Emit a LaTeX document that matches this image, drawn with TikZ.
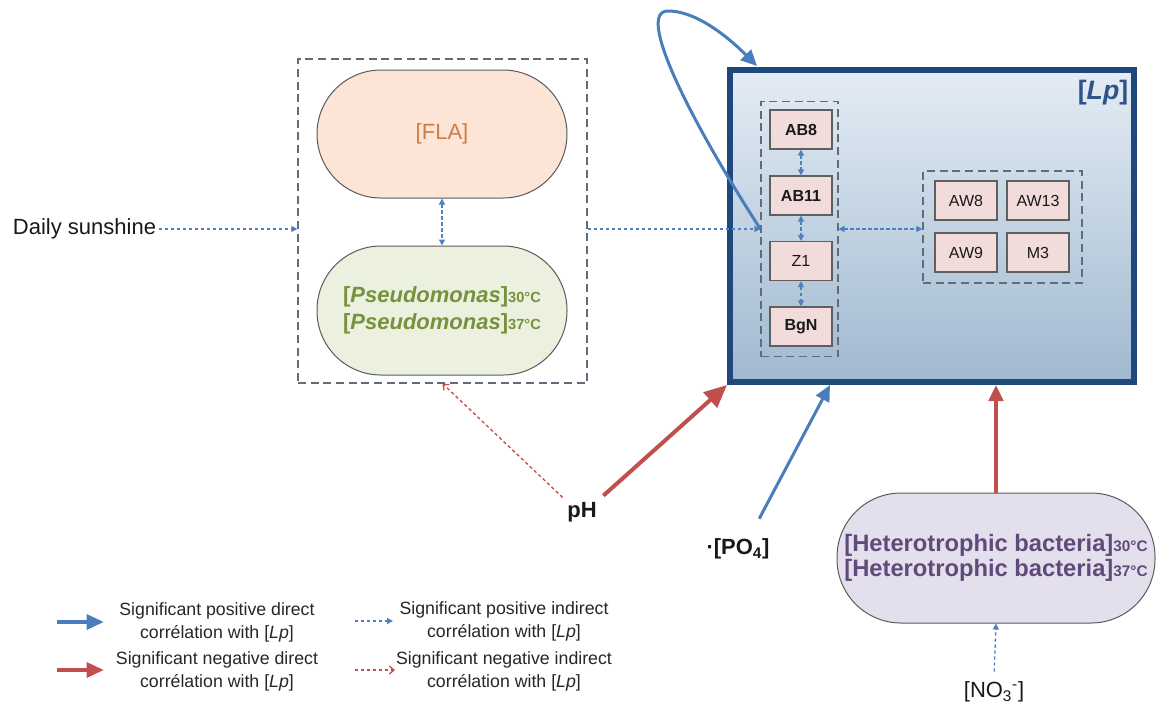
\documentclass[tikz,border=0pt]{standalone}
\usepackage{fontspec}
\setmainfont{Liberation Sans}
\usetikzlibrary{arrows.meta,calc}
\definecolor{dotblue}{RGB}{79,129,189}
\definecolor{blueone}{RGB}{74,126,187}
\definecolor{redone}{RGB}{192,80,77}
\definecolor{grpc}{RGB}{95,108,122}
\definecolor{bxc}{RGB}{95,95,95}
\definecolor{bxfill}{RGB}{242,220,219}
\definecolor{stadc}{RGB}{90,90,90}
\definecolor{flafill}{RGB}{252,228,214}
\definecolor{flatext}{RGB}{205,125,70}
\definecolor{psefill}{RGB}{235,241,222}
\definecolor{psetext}{RGB}{118,146,60}
\definecolor{hetfill}{RGB}{228,223,236}
\definecolor{hettext}{RGB}{96,74,123}
\definecolor{lptop}{RGB}{228,236,244}
\definecolor{lpbot}{RGB}{160,185,208}
\definecolor{lpborder}{RGB}{31,73,125}
\definecolor{lptext}{RGB}{47,85,135}
\definecolor{legtext}{RGB}{38,38,38}
\begin{document}
\begin{tikzpicture}[x=0.75pt,y=-0.75pt,
  grp/.style={draw=grpc, line width=0.9pt, dash pattern=on 6pt off 3.5pt, inner sep=0pt},
  bx/.style={draw=bxc, fill=bxfill, line width=0.8pt, minimum width=46.5pt, minimum height=29.25pt, inner sep=0pt, font=\fontsize{12}{12}\selectfont, text=black!90},
  bxb/.style={bx, font=\bfseries\fontsize{12}{12}\selectfont},
  stad/.style={draw=stadc, line width=0.75pt, rounded corners=48pt, inner sep=0pt, align=center},
  dotb/.style={draw=dotblue, line width=1pt, dash pattern=on 2.5pt off 2pt, -{Triangle[length=4.5pt,width=4.5pt]}},
  dotbb/.style={dotb, {Triangle[length=4.5pt,width=4.5pt]}-{Triangle[length=4.5pt,width=4.5pt]}},
  dotr/.style={draw=redone, line width=1pt, dash pattern=on 2.5pt off 2pt, -{Straight Barb[length=3.5pt,width=6pt]}},
  solb/.style={draw=blueone, line width=2.25pt, -{Triangle[length=12pt,width=11pt]}},
  solr/.style={draw=redone, line width=2.6pt, -{Triangle[length=12pt,width=11pt]}},
  legfont/.style={font=\fontsize{13.3}{17.25}\selectfont, text=legtext, align=center},
  bigtxt/.style={font=\fontsize{16.5}{16.5}\selectfont, text=black!90}
]
\useasboundingbox (0,0) rectangle (1157,711);

% main Lp box
\node[draw=lpborder, line width=4.5pt, top color=lptop, bottom color=lpbot,
      minimum width=303pt, minimum height=234pt, inner sep=0pt] (lp) at (932,226) {};
\node[font=\bfseries\fontsize{20}{20}\selectfont, text=lptext] (lplab) at (1103,93) {[\textit{Lp}]};

% left group inside Lp
\node[grp, minimum width=57.75pt, minimum height=191.25pt] (lgrp) at (799.5,229) {};
\node[bxb] (ab8)  at (801,129.5) {AB8};
\node[bxb] (ab11) at (801,195.5) {AB11};
\node[bx]  (z1)   at (801,261)   {Z1};
\node[bxb] (bgn)  at (801,326.5) {BgN};
\draw[dotbb] (ab8) -- (ab11);
\draw[dotbb] (ab11) -- (z1);
\draw[dotbb] (z1) -- (bgn);

% right group inside Lp
\node[grp, minimum width=119.25pt, minimum height=84pt] (rgrp) at (1002.5,227) {};
\node[bx] (aw8)  at (966,200.5)  {AW8};
\node[bx] (aw13) at (1038,200.5) {AW13};
\node[bx] (aw9)  at (966,252.5)  {AW9};
\node[bx] (m3)   at (1038,252.5) {M3};
\draw[dotbb] (lgrp.east) -- (lgrp.east -| rgrp.west);

% left big group
\node[grp, minimum width=216.75pt, minimum height=243pt] (big) at (442.5,221) {};
\node[stad, fill=flafill, minimum width=187.5pt, minimum height=96pt,
      font=\fontsize{16.5}{16.5}\selectfont, text=flatext] (fla) at (442,134) {[FLA]};
\node[stad, fill=psefill, minimum width=187.5pt, minimum height=96.75pt,
      font=\bfseries\fontsize{16.5}{20}\selectfont, text=psetext] (pse) at (442,310.5)
      {{[}\textit{Pseudomonas}]{\fontsize{11}{11}\selectfont 30°C}\\{[}\textit{Pseudomonas}]{\fontsize{11}{11}\selectfont 37°C}};
\draw[dotbb] (fla.south) -- (pse.north);

% daily sunshine
\node[bigtxt, inner sep=2pt] (sun) at (84.5,229) {Daily sunshine};
\draw[dotb] (sun.east) -- (sun.east -| big.west);
\draw[dotb] (lgrp.west -| big.east) -- (lgrp.west);

% self loop
\coordinate (looptip) at (757,66);
\draw[solb] (lgrp.west) .. controls (690,120) and (635,11) .. (668,11)
   .. controls (700,11) and (735,44) .. (looptip);

% pH
\node[font=\bfseries\fontsize{16.5}{16.5}\selectfont, text=black!90] (ph) at (582,512) {pH};
\draw[solr, line width=3pt, -{Triangle[length=17pt,width=15pt]}, shorten <=2pt] (ph.north east) -- (lp.south west);
\draw[dotr] (ph.north west) -- (big.south);

% PO4
\node[font=\bfseries\fontsize{16.5}{16.5}\selectfont, text=black!90] (po) at (738,549) {·[PO\textsubscript{4}]};
\draw[solb, shorten <=13pt] ([xshift=9.8pt]po.north) -- ([xshift=77.25pt]lp.south west);

% heterotrophic bacteria
\node[stad, fill=hetfill, minimum width=238.5pt, minimum height=97.5pt,
      font=\bfseries\fontsize{17.8}{19}\selectfont, text=hettext] (het) at (996,558)
      {{[}Heterotrophic bacteria]{\fontsize{11.5}{11.5}\selectfont 30°C}\\{[}Heterotrophic bacteria]{\fontsize{11.5}{11.5}\selectfont 37°C}};
\draw[solr] (het.north) -- (het.north |- lp.south);

% NO3
\node[bigtxt] (no3) at (994,692) {[NO\textsubscript{3}\textsuperscript{-}]};
\draw[dotb, shorten <=4pt] (no3.north) -- (het.south);

% legend
\coordinate (l1a) at (57,622);  \coordinate (l1b) at (104,622);
\coordinate (l2a) at (57,670);  \coordinate (l2b) at (104,670);
\coordinate (l3a) at (355,621); \coordinate (l3b) at (393,621);
\coordinate (l4a) at (355,670); \coordinate (l4b) at (395,670);
\draw[solb, line width=3pt, -{Triangle[length=13pt,width=11pt]}] (l1a) -- (l1b);
\draw[solr, line width=3pt, -{Triangle[length=13pt,width=11pt]}] (l2a) -- (l2b);
\draw[dotb] (l3a) -- (l3b);
\draw[dotr] (l4a) -- (l4b);
\node[legfont] (leg1) at (217,622) {Significant positive direct\\corrélation with [\textit{Lp}]};
\node[legfont] (leg2) at (217,671.5) {Significant negative direct\\corrélation with [\textit{Lp}]};
\node[legfont] (leg3) at (504,621) {Significant positive indirect\\corrélation with [\textit{Lp}]};
\node[legfont] (leg4) at (504,671) {Significant negative indirect\\corrélation with [\textit{Lp}]};
\end{tikzpicture}
\end{document}
